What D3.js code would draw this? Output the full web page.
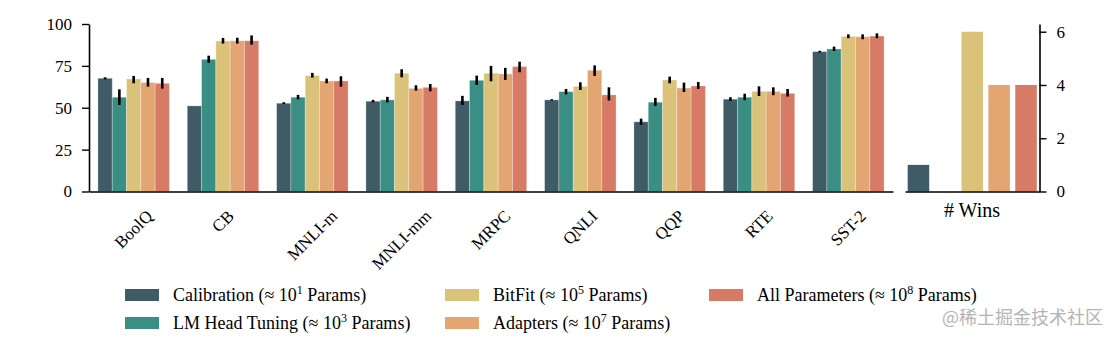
<!DOCTYPE html>
<html>
<head>
<meta charset="utf-8">
<script src="https://cdn.jsdelivr.net/npm/d3@7"></script>
<style>
  body { margin: 0; background: #fff; }
  svg { font-family: "Liberation Serif", serif; }
  svg .tick text { font-family: "Liberation Serif", serif; }
</style>
</head>
<body>
<svg id="chart" width="1118" height="340"></svg>
<script>
// tasks on the x axis
let tasks = ["BoolQ", "CB", "MNLI-m", "MNLI-mm", "MRPC", "QNLI", "QQP", "RTE", "SST-2"];

// method names (legend) + superscript of the param count
let methods = ["Calibration", "LM Head Tuning", "BitFit", "Adapters", "All Parameters"];
let paramExp = ["1", "3", "5", "7", "8"];
let colors = ["#3e5b66", "#3a8e83", "#dbc27b", "#e3a673", "#d77b66"];

// accuracy per task, one list per method
let calibration = [67.6, 51.1, 52.7, 53.9, 54.1, 54.7, 41.6, 55.1, 83.5];
let lmHead      = [56.3, 78.9, 56.3, 54.7, 66.4, 59.6, 53.3, 56.3, 85.1];
let bitfit      = [67.2, 89.9, 69.2, 70.6, 70.6, 62.8, 66.6, 59.8, 92.6];
let adapters    = [65.0, 90.0, 66.0, 61.6, 70.2, 72.4, 61.8, 59.8, 92.4];
let allParams   = [64.6, 90.0, 66.0, 62.2, 74.6, 57.7, 63.0, 58.6, 92.8];

// error bar ends (low / high)
let calibrationLo = [66.9, 51.1, 52.2, 53.2, 51.7, 54.3, 39.8, 54.1, 83.0];
let calibrationHi = [68.2, 51.1, 53.3, 54.7, 57.1, 55.1, 43.5, 56.3, 84.0];
let lmHeadLo      = [51.7, 76.9, 55.0, 53.2, 63.6, 58.0, 51.1, 54.5, 83.9];
let lmHeadHi      = [61.0, 81.1, 57.7, 56.5, 69.2, 61.2, 55.9, 58.4, 86.5];
let bitfitLo      = [64.6, 88.3, 68.0, 68.2, 65.8, 60.6, 64.6, 57.0, 91.5];
let bitfitHi      = [69.0, 91.7, 70.8, 73.0, 75.0, 65.2, 68.6, 62.8, 93.8];
let adaptersLo    = [62.6, 88.3, 64.6, 60.2, 66.6, 69.0, 59.4, 57.5, 90.9];
let adaptersHi    = [67.8, 91.8, 67.4, 63.4, 73.8, 75.3, 65.0, 62.2, 93.8];
let allParamsLo   = [61.4, 87.7, 62.6, 59.8, 71.2, 54.3, 61.2, 56.7, 91.5];
let allParamsHi   = [67.8, 93.2, 68.8, 64.2, 77.5, 62.2, 65.4, 61.2, 94.4];

// number of wins per method
let wins = [1, 0, 6, 4, 4];

let leftTicks = [0, 25, 50, 75, 100];
let rightTicks = [0, 2, 4, 6];

let values = [calibration, lmHead, bitfit, adapters, allParams];
let lows = [calibrationLo, lmHeadLo, bitfitLo, adaptersLo, allParamsLo];
let highs = [calibrationHi, lmHeadHi, bitfitHi, adaptersHi, allParamsHi];

let svg = d3.select("#chart");
let yTop = 24, yBase = 191.5;

// ---- main panel ----
let x0 = d3.scaleBand().domain(tasks).range([89, 893]);
let x1 = d3.scaleBand().domain(methods)
    .range([x0.bandwidth() * 0.1, x0.bandwidth() * 0.9]);
let y = d3.scaleLinear().domain([0, 100]).range([yBase, yTop]);

let bars = [];
tasks.forEach((t, i) => {
    methods.forEach((m, j) => {
        bars.push({task: t, method: m, c: colors[j], v: values[j][i], lo: lows[j][i], hi: highs[j][i]});
    });
});

let main = svg.append("g");
main.selectAll("rect")
    .data(bars)
    .enter()
    .append("rect")
    .attr("x", d => x0(d.task) + x1(d.method))
    .attr("width", x1.bandwidth())
    .attr("y", d => y(d.v))
    .attr("height", d => yBase - y(d.v))
    .attr("fill", d => d.c)
    .attr("stroke", "rgba(255,255,255,0.35)")
    .attr("stroke-width", 0.8);

main.selectAll("line.err")
    .data(bars.filter(d => d.hi > d.lo))
    .enter()
    .append("line")
    .attr("class", "err")
    .attr("x1", d => x0(d.task) + x1(d.method) + x1.bandwidth() / 2)
    .attr("x2", d => x0(d.task) + x1(d.method) + x1.bandwidth() / 2)
    .attr("y1", d => y(d.lo))
    .attr("y2", d => y(d.hi))
    .attr("stroke", "#000")
    .attr("stroke-width", 2.6);

main.append("g")
    .attr("transform", "translate(89,0)")
    .call(d3.axisLeft(y).tickValues(leftTicks).tickSize(7).tickSizeOuter(0).tickPadding(10));

main.append("g")
    .attr("transform", `translate(0,${yBase})`)
    .call(d3.axisBottom(x0).tickSize(0).tickSizeOuter(0).tickFormat(""));

// rotated task labels, centred under each group
let labelTop = 209;
tasks.forEach(t => {
    let txt = main.append("text")
        .attr("font-size", 17)
        .attr("text-anchor", "middle")
        .attr("dominant-baseline", "central")
        .text(t);
    let w = txt.node().getComputedTextLength();
    let h = 12;
    let cy = labelTop + (w + h) * Math.SQRT1_2 / 2;
    let cx = x0(t) + x0.bandwidth() / 2;
    txt.attr("x", cx).attr("y", cy)
        .attr("transform", `rotate(-45,${cx},${cy})`);
});

// ---- wins panel ----
let xw = d3.scaleBand().domain(methods).range([905, 1039.5]).paddingInner(0.2).paddingOuter(0.1);
let yw = d3.scaleLinear().domain([0, 6.29]).range([yBase, yTop]);

let side = svg.append("g");
side.selectAll("rect")
    .data(methods.map((m, j) => ({method: m, v: wins[j], c: colors[j]})))
    .enter()
    .append("rect")
    .attr("x", d => xw(d.method))
    .attr("width", xw.bandwidth())
    .attr("y", d => yw(d.v))
    .attr("height", d => yBase - yw(d.v))
    .attr("fill", d => d.c);

side.append("g")
    .attr("transform", "translate(1039.5,0)")
    .call(d3.axisRight(yw).tickValues(rightTicks).tickFormat(d3.format("d"))
        .tickSize(7).tickSizeOuter(0).tickPadding(10));

side.append("g")
    .attr("transform", `translate(0,${yBase})`)
    .call(d3.axisBottom(xw).tickSize(0).tickSizeOuter(0).tickFormat(""));

side.append("text")
    .attr("x", 972)
    .attr("y", 217)
    .attr("text-anchor", "middle")
    .attr("font-size", 20)
    .text("# Wins");

// axis styling: drop d3's sans-serif default so the serif font applies
svg.selectAll("g[font-family]").attr("font-family", null).attr("font-size", null);
svg.selectAll(".tick text")
    .attr("font-size", 17)
    .attr("fill", "#000");
svg.selectAll(".domain").attr("stroke", "#000").attr("stroke-width", 1.6);
svg.selectAll(".tick line").attr("stroke", "#000").attr("stroke-width", 1.4);

// ---- legend ----
let legX = [125, 445, 709];
let legY = [289, 317];
let legend = svg.append("g");
methods.forEach((m, j) => {
    let col = Math.floor(j / 2), row = j % 2;
    let g = legend.append("g").attr("transform", `translate(${legX[col]},${legY[row]})`);
    g.append("rect").attr("width", 34).attr("height", 12).attr("fill", colors[j]);
    let t = g.append("text").attr("x", 48).attr("y", 12).attr("font-size", 18);
    t.append("tspan").text(m + " (\u2248 10");
    t.append("tspan").attr("font-size", 12).attr("dy", -7).text(paramExp[j]);
    t.append("tspan").attr("dy", 7).text(" Params)");
});

// watermark
svg.append("text")
    .attr("x", 1103)
    .attr("y", 324)
    .attr("text-anchor", "end")
    .attr("font-family", "Noto Sans CJK SC, sans-serif")
    .attr("font-size", 18)
    .attr("fill", "#b4b4b4")
    .text("@稀土掘金技术社区");
</script>
</body>
</html>
